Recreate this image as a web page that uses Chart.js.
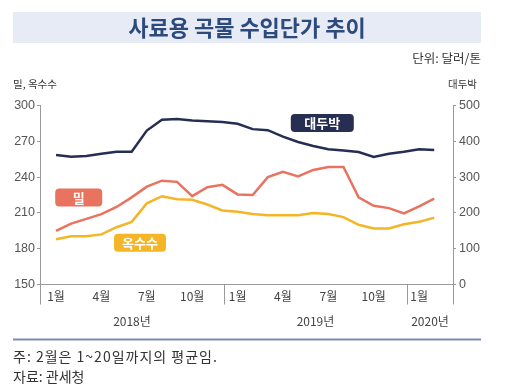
<!DOCTYPE html>
<html>
<head>
<meta charset="utf-8">
<script src="https://cdn.jsdelivr.net/npm/chart.js@4"></script>
<style>
  html, body { margin: 0; padding: 0; background: #fff; }
  #chart1 { display: block; }
</style>
</head>
<body>
<canvas id="chart1" width="512" height="391"></canvas>
<script>
// 2018.1 ~ 2020.2, 달러/톤
var months = ['1월','2월','3월','4월','5월','6월','7월','8월','9월','10월','11월','12월',
              '1월','2월','3월','4월','5월','6월','7월','8월','9월','10월','11월','12월',
              '1월','2월'];
var years = ['2018년', '2019년', '2020년'];
var wheat = [195, 201, 205, 209, 215, 223, 232, 237, 236, 224, 231.5, 233.5,
             225.5, 225, 240, 244.5, 240.5, 246, 248.5, 248.5, 223, 216, 214, 209.5, 215.5, 222];
var corn = [188, 190.5, 190.5, 192, 198, 202.5, 218, 224, 221.5, 221, 217, 212,
            211, 209, 208, 208, 208, 210, 209, 206.5, 200, 197, 197, 200.5, 202.5, 206];
var soymeal = [362, 357, 359, 365, 371, 371, 430, 460, 462, 458, 456, 454,
               449, 434, 431, 413, 398, 387, 378, 374, 370, 356, 365, 371, 378, 376];

var NAVY = '#262e52', RED = '#e8735f', GOLD = '#f4b526';
var FONT = '"Noto Sans CJK KR", "Noto Sans", sans-serif';

function toPoints(arr) {
	return arr.map(function (v, i) { return { x: i, y: v }; });
}

var decor = {
	id: 'decor',
	beforeDraw: function (chart) {
		var c = chart.ctx;
		c.save();
		// title band
		c.fillStyle = '#e7ebf5';
		c.fillRect(13, 12, 468, 31);
		c.fillStyle = '#2d4a7d';
		c.font = 'bold 22px ' + FONT;
		c.textAlign = 'center';
		c.textBaseline = 'middle';
		c.fillText('사료용 곡물 수입단가 추이', 247, 28);

		c.fillStyle = '#333';
		c.font = '12.5px ' + FONT;
		c.textAlign = 'right';
		c.fillText('단위: 달러/톤', 481, 58);
		c.font = '10.5px ' + FONT;
		c.textAlign = 'left';
		c.fillText('밀, 옥수수', 13, 84);
		c.textAlign = 'right';
		c.fillText('대두박', 477, 84);

		// bottom rule and notes
		c.fillStyle = '#7f89b8';
		c.fillRect(13, 338.5, 468, 2);
		c.fillStyle = '#333';
		c.font = '14px ' + FONT;
		c.textAlign = 'left';
		c.letterSpacing = '1px';
		c.fillText('주: 2월은 1~20일까지의 평균임.', 13, 357);
		c.letterSpacing = '0px';
		c.fillText('자료: 관세청', 13, 377);
		c.restore();
	},
	afterDraw: function (chart) {
		var c = chart.ctx, a = chart.chartArea, x = chart.scales.x;
		c.save();
		// axis extensions and year separators
		var seps = [a.left, x.getPixelForValue(12 - 0.9), x.getPixelForValue(24 - 0.8), a.right];
		c.strokeStyle = '#999';
		c.lineWidth = 1;
		seps.forEach(function (px) {
			c.beginPath();
			c.moveTo(Math.round(px) + 0.5, a.bottom);
			c.lineTo(Math.round(px) + 0.5, a.bottom + 20);
			c.stroke();
		});
		c.fillStyle = '#444';
		c.font = '12px ' + FONT;
		c.textAlign = 'center';
		c.textBaseline = 'middle';
		for (var i = 0; i < years.length; i++) {
			c.fillText(years[i], (seps[i] + seps[i + 1]) / 2, a.bottom + 37);
		}

		// series tags
		var tags = [
			{ text: '대두박', color: NAVY, axis: 'yR', x: 17.6, y: 451, w: 63 },
			{ text: '밀', color: RED, axis: 'yL', x: 1.5, y: 223, w: 47 },
			{ text: '옥수수', color: GOLD, axis: 'yL', x: 5.55, y: 185, w: 52 }
		];
		tags.forEach(function (t) {
			var cx = x.getPixelForValue(t.x), cy = chart.scales[t.axis].getPixelForValue(t.y);
			c.fillStyle = t.color;
			c.beginPath();
			c.roundRect(cx - t.w / 2, cy - 9, t.w, 18, 4);
			c.fill();
			c.fillStyle = '#fff';
			c.font = 'bold 13px ' + FONT;
			c.fillText(t.text, cx, cy + 0.5);
		});
		c.restore();
	}
};

var ctx = document.getElementById('chart1').getContext('2d');
new Chart(ctx, {
	type: 'line',
	data: {
		datasets: [{
			label: '대두박',
			data: toPoints(soymeal),
			yAxisID: 'yR',
			borderColor: NAVY,
			borderWidth: 2.5
		}, {
			label: '밀',
			data: toPoints(wheat),
			yAxisID: 'yL',
			borderColor: RED,
			borderWidth: 2.5
		}, {
			label: '옥수수',
			data: toPoints(corn),
			yAxisID: 'yL',
			borderColor: GOLD,
			borderWidth: 2.5
		}]
	},
	options: {
		responsive: false,
		animation: false,
		devicePixelRatio: 1,
		layout: { padding: { top: 105.5, left: 0, right: 0, bottom: 0 } },
		elements: { point: { radius: 0 }, line: { tension: 0 } },
		plugins: { legend: { display: false }, tooltip: { enabled: false } },
		scales: {
			x: {
				type: 'linear',
				min: -1.06,
				max: 26.24,
				afterBuildTicks: function (s) {
					s.ticks = [0, 3, 6, 9, 12, 15, 18, 21, 24].map(function (v) { return { value: v }; });
				},
				afterFit: function (s) { s.height = 391 - 284.5; },
				grid: { display: false, drawTicks: false },
				border: { display: true, color: '#999', width: 1 },
				ticks: {
					autoSkip: false,
					maxRotation: 0,
					padding: 5,
					color: '#444',
					font: { family: FONT, size: 12 },
					callback: function (v) { return months[v]; }
				}
			},
			yL: {
				position: 'left',
				min: 150,
				max: 300,
				afterFit: function (s) { s.width = 40; },
				grid: { drawOnChartArea: false, tickLength: 3, color: '#999' },
				border: { display: true, color: '#999', width: 1 },
				ticks: { stepSize: 30, padding: 2, color: '#555', font: { family: 'Liberation Sans', size: 12.5 } }
			},
			yR: {
				position: 'right',
				min: 0,
				max: 500,
				afterFit: function (s) { s.width = 59; },
				grid: { drawOnChartArea: false, tickLength: 3, color: '#999' },
				border: { display: true, color: '#999', width: 1 },
				ticks: { stepSize: 100, padding: 3, color: '#555', font: { family: 'Liberation Sans', size: 12.5 } }
			}
		}
	},
	plugins: [decor]
});
</script>
</body>
</html>
